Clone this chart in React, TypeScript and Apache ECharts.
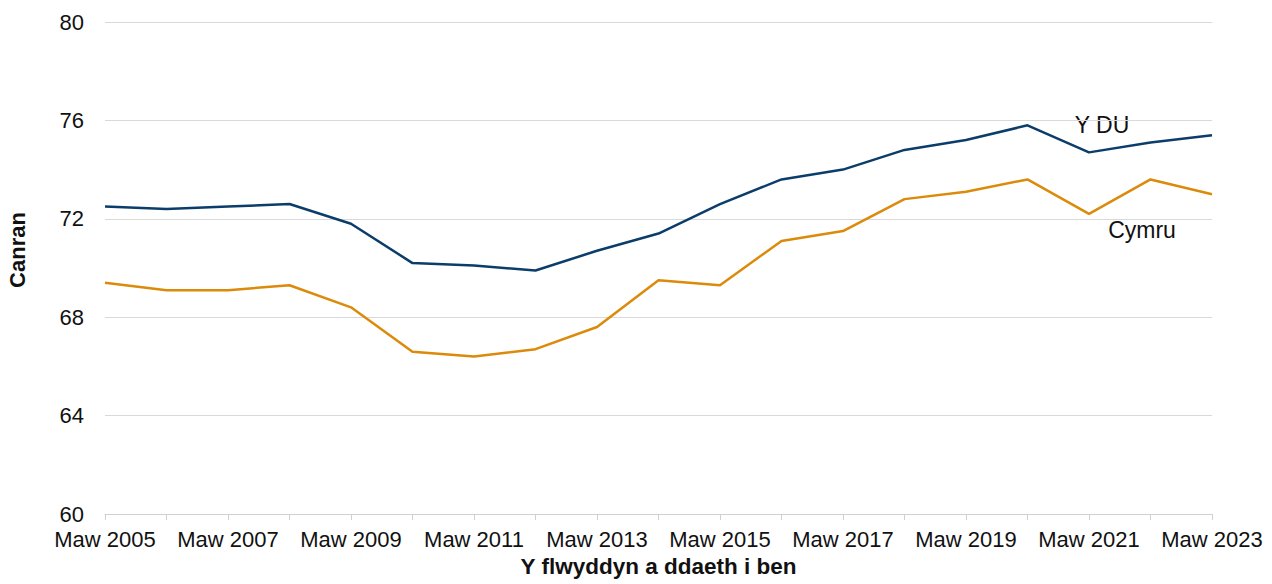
import React, { useEffect, useRef } from "react";
import * as echarts from "echarts";

const categories = [
  "Maw 2005", "Maw 2006", "Maw 2007", "Maw 2008", "Maw 2009", "Maw 2010",
  "Maw 2011", "Maw 2012", "Maw 2013", "Maw 2014", "Maw 2015", "Maw 2016",
  "Maw 2017", "Maw 2018", "Maw 2019", "Maw 2020", "Maw 2021", "Maw 2022",
  "Maw 2023",
];
const ukValues = [72.5, 72.4, 72.5, 72.6, 71.8, 70.2, 70.1, 69.9, 70.7, 71.4, 72.6, 73.6, 74.0, 74.8, 75.2, 75.8, 74.7, 75.1, 75.4];
const walesValues = [69.4, 69.1, 69.1, 69.3, 68.4, 66.6, 66.4, 66.7, 67.6, 69.5, 69.3, 71.1, 71.5, 72.8, 73.1, 73.6, 72.2, 73.6, 73.0];
const seriesNames = ["Y DU", "Cymru"];
const yTicks = { min: 60, max: 80, interval: 4 };
const xTitle = "Y flwyddyn a ddaeth i ben";
const yTitle = "Canran";

export default function App() {
  const ref = useRef<HTMLDivElement>(null);
  useEffect(() => {
    const chart = echarts.init(ref.current!, null, { renderer: "svg" });
    const font = "'Liberation Sans', Arial, sans-serif";
    chart.setOption({
      animation: false,
      textStyle: { fontFamily: font },
      grid: { left: 105, right: 60, top: 22, bottom: 70, containLabel: false, outerBoundsMode: "none" },
      xAxis: {
        type: "category",
        data: categories,
        boundaryGap: false,
        axisLine: { lineStyle: { color: "#d0d0d0", width: 1 } },
        axisTick: { show: true, interval: 0, length: 6, lineStyle: { color: "#d0d0d0" } },
        axisLabel: { interval: 1, color: "#111", fontSize: 22, fontFamily: font, margin: 14 },
        name: xTitle,
        nameLocation: "middle",
        nameGap: 37,
        nameTextStyle: { fontSize: 22.5, fontWeight: "bold", color: "#111", fontFamily: font },
      },
      yAxis: {
        type: "value",
        min: yTicks.min,
        max: yTicks.max,
        interval: yTicks.interval,
        axisLine: { show: false },
        axisTick: { show: false },
        splitLine: { lineStyle: { color: "#d9d9d9", width: 1 } },
        axisLabel: { color: "#111", fontSize: 22, fontFamily: font, margin: 21 },
      },
      series: [
        {
          name: seriesNames[0],
          type: "line",
          data: ukValues,
          symbol: "none",
          lineStyle: { color: "#0b3d6b", width: 2.5 },
          itemStyle: { color: "#0b3d6b" },
        },
        {
          name: seriesNames[1],
          type: "line",
          data: walesValues,
          symbol: "none",
          lineStyle: { color: "#dc8a0a", width: 2.5 },
          itemStyle: { color: "#dc8a0a" },
        },
      ],
      graphic: [
        {
          type: "text",
          x: 17,
          y: 250,
          rotation: Math.PI / 2,
          style: {
            text: yTitle,
            fontSize: 22,
            fontWeight: "bold",
            fill: "#111",
            fontFamily: font,
            align: "center",
            verticalAlign: "middle",
          },
        },
        {
          type: "text",
          x: 1102,
          y: 125,
          style: { text: seriesNames[0], fontSize: 23, fill: "#111", fontFamily: font, align: "center", verticalAlign: "middle" },
        },
        {
          type: "text",
          x: 1142,
          y: 230,
          style: { text: seriesNames[1], fontSize: 23, fill: "#111", fontFamily: font, align: "center", verticalAlign: "middle" },
        },
      ],
    });
    return () => chart.dispose();
  }, []);
  return <div ref={ref} style={{ width: 1272, height: 584, position: "absolute", left: 0, top: 0 }} />;
}
